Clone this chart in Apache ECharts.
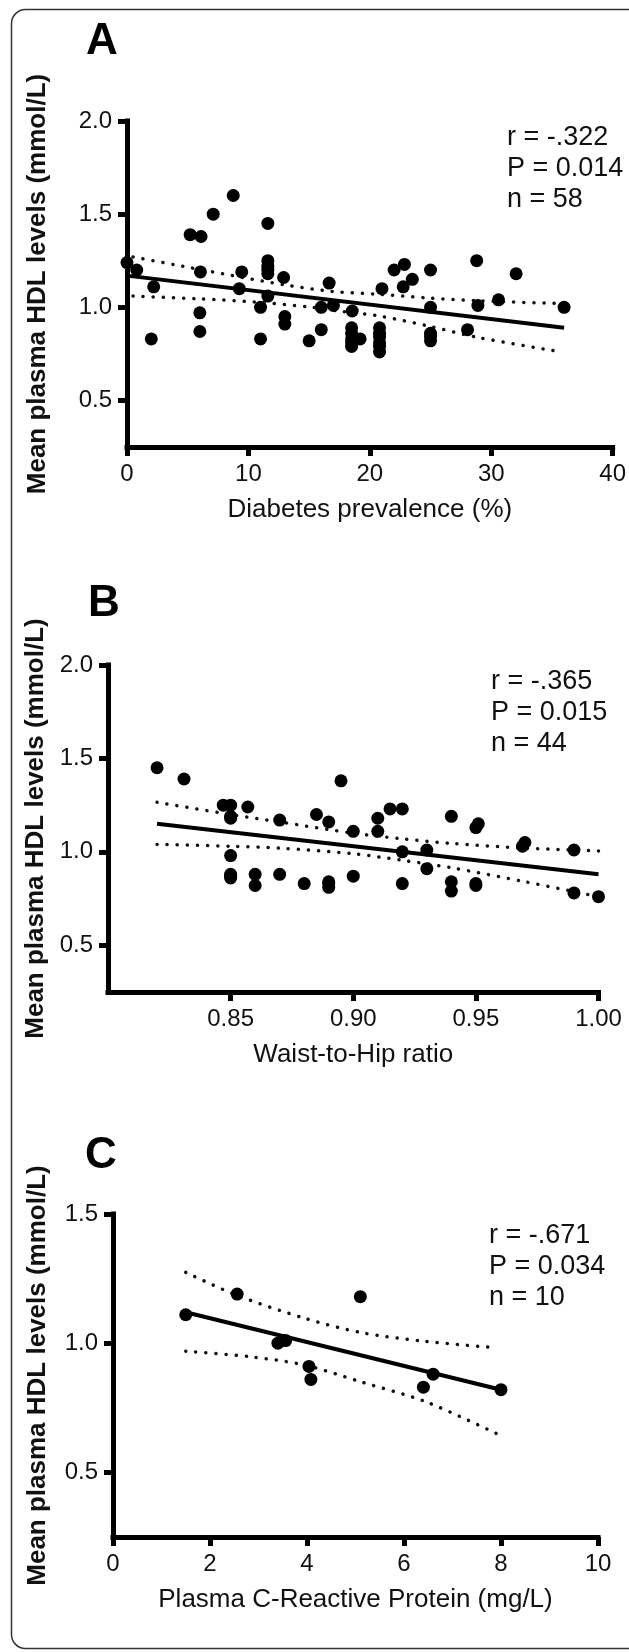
<!DOCTYPE html>
<html>
<head>
<meta charset="utf-8">
<script src="https://cdn.jsdelivr.net/npm/echarts@6/dist/echarts.min.js"></script>
<style>
html,body{margin:0;padding:0;background:#fff;}
#chart{width:629px;height:1652px;}
</style>
</head>
<body>
<div id="chart"></div>
<script>
// ---------- Panel A: Diabetes prevalence ----------
const aX = [0, 0.8, 2.2, 2.0, 5.2, 6.1, 6.05, 6.0, 6.0, 7.1, 8.75, 9.45, 9.25, 11.0, 11.0, 11.6, 11.6, 11.6, 11.6, 11.6, 12.9, 13.0, 13.0, 15.0, 16.0, 16.0, 16.65, 17.0, 18.55, 18.5, 18.5, 18.5, 18.5, 19.2, 20.8, 20.8, 20.8, 20.8, 20.8, 20.8, 21.0, 22.0, 22.85, 23.5, 22.75, 25.0, 25.0, 25.0, 25.0, 28.05, 28.8, 28.9, 30.6, 32.05, 36.0, 25.0, 18.5, 11.6];
const aY = [1.24, 1.20, 1.11, 0.83, 1.39, 1.38, 1.19, 0.97, 0.87, 1.50, 1.60, 1.19, 1.10, 1.00, 0.83, 1.45, 1.25, 1.22, 1.18, 1.06, 1.16, 0.95, 0.91, 0.82, 1.00, 0.88, 1.13, 1.01, 0.98, 0.89, 0.86, 0.83, 0.79, 0.83, 0.89, 0.86, 0.84, 0.81, 0.79, 0.76, 1.10, 1.20, 1.23, 1.15, 1.11, 1.20, 1.00, 0.86, 0.82, 0.88, 1.25, 1.01, 1.04, 1.18, 1.00, 0.84, 0.81, 1.20];
const aFitX = [0, 36];
const aFitY = [1.17, 0.89];
const aUpX = [0.5, 4.6, 8.7, 13.0, 16.9, 20.7, 24.8, 28.9, 35.8];
const aUpY = [1.27, 1.22, 1.17, 1.12, 1.085, 1.07, 1.05, 1.035, 1.02];
const aLoX = [0.5, 6.0, 10.6, 15.2, 17.4, 20.7, 24.8, 28.9, 35.8];
const aLoY = [1.06, 1.045, 1.028, 1.0, 0.98, 0.954, 0.90, 0.838, 0.76];
const aYTicks = [0.5, 1.0, 1.5, 2.0];
const aStats = ['r = -.322', 'P = 0.014', 'n = 58'];

// ---------- Panel B: Waist-to-Hip ratio ----------
const bX = [0.82, 0.831, 0.847, 0.85, 0.85, 0.857, 0.85, 0.85, 0.85, 0.86, 0.86, 0.87, 0.87, 0.88, 0.885, 0.89, 0.89, 0.89, 0.895, 0.90, 0.90, 0.91, 0.91, 0.915, 0.92, 0.92, 0.92, 0.93, 0.93, 0.94, 0.94, 0.94, 0.95, 0.951, 0.95, 0.95, 0.969, 0.97, 0.99, 0.99, 1.00, 0.85, 0.89, 0.85];
const bY = [1.45, 1.39, 1.25, 1.25, 1.18, 1.24, 0.98, 0.88, 0.86, 0.88, 0.82, 1.17, 0.88, 0.83, 1.20, 1.16, 0.84, 0.81, 1.38, 1.11, 0.87, 1.18, 1.11, 1.23, 1.23, 1.00, 0.83, 1.01, 0.91, 1.19, 0.84, 0.79, 1.13, 1.15, 0.82, 0.83, 1.03, 1.05, 1.01, 0.78, 0.76, 0.87, 0.83, 1.19];
const bFitX = [0.82, 1.00];
const bFitY = [1.15, 0.88];
const bUpX = [0.82, 0.85, 0.87, 0.90, 0.92, 0.94, 0.97, 1.00];
const bUpY = [1.265, 1.20, 1.16, 1.10, 1.07, 1.045, 1.02, 1.005];
const bLoX = [0.82, 0.85, 0.87, 0.90, 0.92, 0.94, 0.97, 1.00];
const bLoY = [1.04, 1.03, 1.02, 0.99, 0.955, 0.915, 0.84, 0.76];
const bXTicks = [0.85, 0.90, 0.95, 1.00];
const bYTicks = [0.5, 1.0, 1.5, 2.0];
const bStats = ['r = -.365', 'P = 0.015', 'n = 44'];

// ---------- Panel C: Plasma C-Reactive Protein ----------
const cX = [1.5, 2.56, 3.4, 3.56, 4.04, 4.08, 5.1, 6.4, 6.6, 8.0];
const cY = [1.11, 1.19, 1.00, 1.01, 0.91, 0.86, 1.18, 0.83, 0.88, 0.82];
const cFitX = [1.5, 8.0];
const cFitY = [1.12, 0.82];
const cUpX = [1.5, 2.56, 3.96, 5.12, 6.44, 7.92];
const cUpY = [1.274, 1.185, 1.096, 1.041, 1.007, 0.982];
const cLoX = [1.5, 2.81, 3.96, 5.12, 6.44, 7.9];
const cLoY = [0.969, 0.948, 0.915, 0.85, 0.774, 0.651];
const cYTicks = [0.5, 1.0, 1.5];
const cStats = ['r = -.671', 'P = 0.034', 'n = 10'];

const FONT = "'Liberation Sans', Arial, Helvetica, sans-serif";
const INK = '#111';
const zip = (xs, ys) => xs.map((x, i) => [x, ys[i]]);

const grids = [
  {left: 127, top: 121, width: 489, height: 326},
  {left: 108, top: 665, width: 490.5, height: 327},
  {left: 113, top: 1214, width: 485, height: 323}
];

function axisBase() {
  return {
    axisLine: {show: true, onZero: false, lineStyle: {color: '#000', width: 5, cap: 'square'}},
    axisTick: {show: true, inside: false, length: 9, lineStyle: {color: '#000', width: 5}},
    splitLine: {show: false},
    axisLabel: {color: INK, fontFamily: FONT, fontSize: 24},
    nameTextStyle: {color: INK, fontFamily: FONT, fontSize: 26}
  };
}

function xAxis(idx, name, min, max, opts) {
  const b = axisBase();
  const ax = Object.assign({
    type: 'value', gridIndex: idx, min: min, max: max,
    name: name, nameLocation: 'middle', nameGap: 50
  }, b);
  ax.axisLabel = Object.assign({}, b.axisLabel, {margin: 15});
  if (opts.interval) ax.interval = opts.interval;
  if (opts.ticks) {
    ax.axisLabel.customValues = opts.ticks;
    ax.axisTick = Object.assign({}, b.axisTick, {customValues: opts.ticks});
  }
  if (opts.fmt) ax.axisLabel.formatter = opts.fmt;
  return ax;
}

function yAxis(idx, min, max, ticks, gap) {
  const b = axisBase();
  const ax = Object.assign({
    type: 'value', gridIndex: idx, min: min, max: max,
    name: 'Mean plasma HDL levels (mmol/L)', nameLocation: 'middle', nameGap: gap
  }, b);
  ax.nameTextStyle = Object.assign({}, b.nameTextStyle, {fontWeight: 'bold'});
  ax.axisLabel = Object.assign({}, b.axisLabel, {
    margin: 15, customValues: ticks, formatter: v => Number(v).toFixed(1)
  });
  ax.axisTick = Object.assign({}, b.axisTick, {customValues: ticks});
  return ax;
}

function panelSeries(idx, xs, ys, fx, fy, ux, uy, lx, ly) {
  const dotStyle = {color: INK, width: 3.5, type: [0.1, 10], cap: 'round'};
  return [
    {type: 'line', xAxisIndex: idx, yAxisIndex: idx, data: zip(ux, uy), smooth: 0.3,
     showSymbol: false, silent: true, lineStyle: dotStyle, z: 2},
    {type: 'line', xAxisIndex: idx, yAxisIndex: idx, data: zip(lx, ly), smooth: 0.3,
     showSymbol: false, silent: true, lineStyle: dotStyle, z: 2},
    {type: 'scatter', xAxisIndex: idx, yAxisIndex: idx, data: zip(xs, ys),
     symbol: 'circle', symbolSize: 13, itemStyle: {color: '#000', opacity: 1}, clip: false, z: 3},
    {type: 'line', xAxisIndex: idx, yAxisIndex: idx, data: zip(fx, fy),
     showSymbol: false, silent: true, lineStyle: {color: '#000', width: 4}, z: 4}
  ];
}

function statText(x, y, lines) {
  return {type: 'text', left: x, top: y, z: 10,
    style: {text: lines.join('\n'), fill: INK, font: '27px ' + FONT, lineHeight: 31}};
}
function letter(x, y, t) {
  return {type: 'text', left: x, top: y, z: 10,
    style: {text: t, fill: '#000', font: 'bold 44px ' + FONT}};
}

const option = {
  backgroundColor: '#fff',
  animation: false,
  grid: grids,
  xAxis: [
    xAxis(0, 'Diabetes prevalence (%)', 0, 40, {interval: 10}),
    xAxis(1, 'Waist-to-Hip ratio', 0.8, 1.0, {ticks: bXTicks, fmt: v => Number(v).toFixed(2)}),
    xAxis(2, 'Plasma C-Reactive Protein (mg/L)', 0, 10, {interval: 2})
  ],
  yAxis: [
    yAxis(0, 0.25, 2.0, aYTicks, 76),
    yAxis(1, 0.25, 2.0, bYTicks, 57),
    yAxis(2, 0.25, 1.5, cYTicks, 62)
  ],
  series: [].concat(
    panelSeries(0, aX, aY, aFitX, aFitY, aUpX, aUpY, aLoX, aLoY),
    panelSeries(1, bX, bY, bFitX, bFitY, bUpX, bUpY, bLoX, bLoY),
    panelSeries(2, cX, cY, cFitX, cFitY, cUpX, cUpY, cLoX, cLoY)
  ),
  graphic: [
    {type: 'rect', left: 9, top: 7, z: 0, silent: true,
     shape: {width: 640, height: 1639, r: 14},
     style: {fill: 'none', stroke: '#333', lineWidth: 1.5}},
    letter(86, 20, 'A'),
    letter(88, 582, 'B'),
    letter(85, 1134, 'C'),
    statText(507, 122, aStats),
    statText(491, 666, bStats),
    statText(489, 1220, cStats)
  ]
};

const chart = echarts.init(document.getElementById('chart'), null, {renderer: 'canvas', width: 629, height: 1652});
chart.setOption(option);
</script>
</body>
</html>
